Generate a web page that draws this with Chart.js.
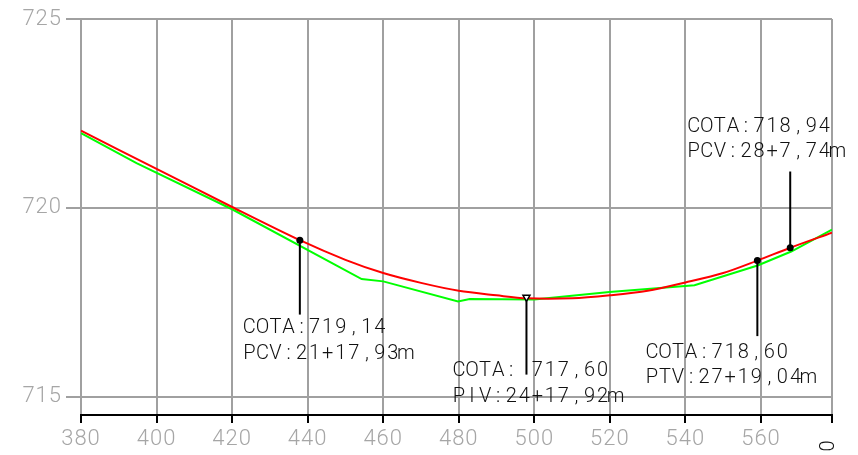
<!DOCTYPE html>
<html>
<head>
<meta charset="utf-8">
<script src="https://cdn.jsdelivr.net/npm/chart.js@4.4.0/dist/chart.umd.min.js"></script>
<style>
  html, body { margin: 0; padding: 0; background: #fff; }
  #wrap { width: 858px; height: 455px; }
</style>
</head>
<body>
<div id="wrap"><canvas id="perfil"></canvas></div>
<script>
// terreno natural (verde) - estaca em m, cota em m
const terrenoEstacas = [380, 394.7, 420, 454.3, 460, 479.8, 482.9, 500, 519.9, 542.4, 559.1, 568, 578.8];
const terrenoCotas = [721.98, 721.18, 719.96, 718.11, 718.05, 717.52, 717.58, 717.57, 717.77, 717.95, 718.47, 718.84, 719.42];

// greide de projeto (vermelho)
const greideEstacas = [380, 400, 420, 437.93, 450, 460, 470, 480, 490, 497.92, 510, 520, 530, 540, 550, 559.04, 567.74, 578.8];
const greideCotas = [722.04, 721.03, 720.02, 719.14, 718.62, 718.27, 718.01, 717.80, 717.68, 717.60, 717.60, 717.68, 717.80, 718.02, 718.27, 718.60, 718.94, 719.34];

const xTicks = [380, 400, 420, 440, 460, 480, 500, 520, 540, 560];
const yTicks = [715, 720, 725];

// pontos notaveis da curva vertical
const marcoEstacas = [437.93, 497.92, 559.04, 567.74];
const marcoCotas = [719.14, 717.60, 718.60, 718.94];
const marcoHastes = [717.17, 715.58, 716.60, 720.96];
const marcoTextos = [
    ['COTA:719,14', 'PCV:21+17,93m'],
    ['COTA: 717,60', 'PIV:24+17,92m'],
    ['COTA:718,60', 'PTV:27+19,04m'],
    ['COTA:718,94', 'PCV:28+7,74m']
];
const cantoTexto = '0';

// texto em celulas de largura fixa (estilo fonte de CAD)
function textoCelulas(ctx, txt, x, y, cel) {
    ctx.textAlign = 'center';
    for (let j = 0; j < txt.length; j++) {
        ctx.fillText(txt[j], x + j * cel + cel / 2, y);
    }
}

// desenha hastes, simbolos e textos dos marcos
const marcosPlugin = {
    id: 'marcos',
    beforeLayout(chart) {
        chart.ctx.letterSpacing = '1px';
    },
    beforeDraw(chart) {
        chart.ctx.letterSpacing = '1px';
    },
    afterDatasetsDraw(chart) {
        const ctx = chart.ctx;
        const xs = chart.scales.x;
        const ys = chart.scales.y;
        const simbolos = ['dot', 'tri', 'dot', 'dot'];
        const desloc = [[-57, 93], [-74, 78], [-112, 97], [-103, -116]];

        ctx.save();
        ctx.letterSpacing = '0px';
        marcoEstacas.forEach((est, i) => {
            const px = xs.getPixelForValue(est);
            const py = ys.getPixelForValue(marcoCotas[i]);
            const pe = ys.getPixelForValue(marcoHastes[i]);

            ctx.strokeStyle = '#000';
            ctx.lineWidth = 2;
            ctx.beginPath();
            ctx.moveTo(px, py);
            ctx.lineTo(px, pe);
            ctx.stroke();

            if (simbolos[i] === 'dot') {
                ctx.fillStyle = '#000';
                ctx.beginPath();
                ctx.arc(px, py, 3.5, 0, Math.PI * 2);
                ctx.fill();
            } else {
                ctx.fillStyle = '#fff';
                ctx.lineWidth = 1.5;
                ctx.beginPath();
                ctx.moveTo(px - 3.5, py - 3);
                ctx.lineTo(px + 3.5, py - 3);
                ctx.lineTo(px, py + 3);
                ctx.closePath();
                ctx.fill();
                ctx.stroke();
            }

            ctx.fillStyle = '#111';
            ctx.font = '300 20px Roboto';
            ctx.textBaseline = 'alphabetic';
            marcoTextos[i].forEach((t, k) => {
                textoCelulas(ctx, t, px + desloc[i][0], py + desloc[i][1] + k * 25.5, 13.05);
            });
        });

        // rotulo solto no canto inferior direito (deitado)
        ctx.translate(829, 446);
        ctx.rotate(-Math.PI / 2);
        ctx.fillStyle = '#111';
        ctx.font = '300 20px Roboto';
        ctx.textAlign = 'center';
        ctx.textBaseline = 'middle';
        ctx.fillText(cantoTexto, 0, 0);
        ctx.restore();
    }
};

const fonteEixo = { family: 'Roboto', size: 22, weight: 300 };

new Chart(document.getElementById('perfil'), {
    type: 'line',
    data: {
        datasets: [{
            label: 'Greide',
            data: greideEstacas.map((x, i) => ({ x: x, y: greideCotas[i] })),
            borderColor: '#ff0000',
            borderWidth: 2,
            pointRadius: 0,
            tension: 0.3
        }, {
            label: 'Terreno',
            data: terrenoEstacas.map((x, i) => ({ x: x, y: terrenoCotas[i] })),
            borderColor: '#00ff00',
            borderWidth: 2,
            pointRadius: 0,
            tension: 0
        }]
    },
    options: {
        responsive: true,
        maintainAspectRatio: false,
        animation: false,
        layout: { padding: { top: 19, right: 26, left: 0, bottom: 0 } },
        plugins: {
            legend: { display: false },
            tooltip: { enabled: false }
        },
        scales: {
            x: {
                type: 'linear',
                min: 380,
                max: 578.8,
                afterBuildTicks: s => {
                    s.ticks = xTicks.map(v => ({ value: v })).concat([{ value: s.max }]);
                },
                afterFit: s => { s.height = 40; },
                grid: { color: '#a0a0a0', lineWidth: 2, tickColor: '#000', tickLength: 8, tickWidth: 2 },
                border: { color: '#000', width: 2 },
                ticks: {
                    color: '#a6a6a6',
                    font: fonteEixo,
                    padding: 3,
                    maxRotation: 0,
                    autoSkip: false,
                    callback: v => xTicks.includes(v) ? String(v) : ''
                }
            },
            y: {
                type: 'linear',
                min: 714.51,
                max: 725,
                afterBuildTicks: s => {
                    s.ticks = yTicks.map(v => ({ value: v }));
                },
                afterFit: s => { s.width = 81; },
                grid: { color: '#a0a0a0', lineWidth: 2, tickLength: 15 },
                border: { display: false },
                ticks: {
                    color: '#a6a6a6',
                    font: fonteEixo,
                    padding: 4,
                    callback: v => String(v)
                }
            }
        }
    },
    plugins: [marcosPlugin]
});
</script>
</body>
</html>
